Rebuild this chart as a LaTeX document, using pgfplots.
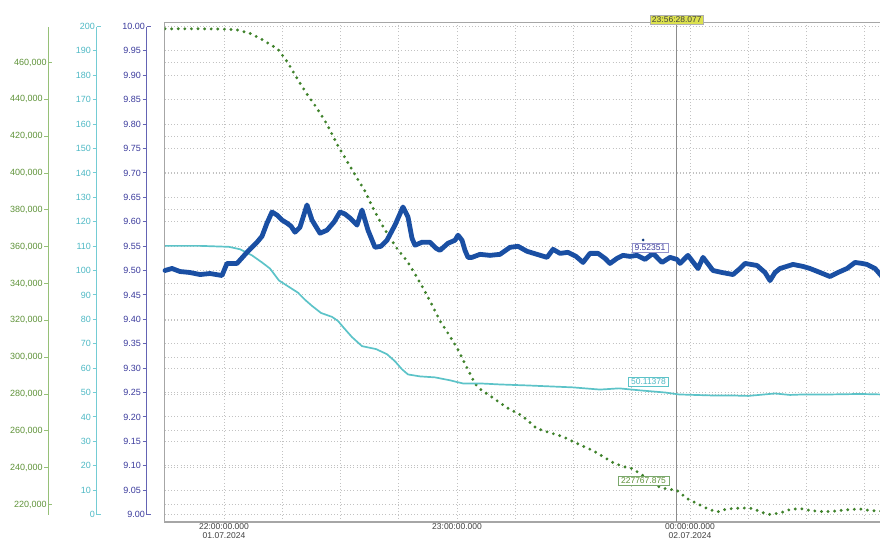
\documentclass[border=0pt]{standalone}
\usepackage{pgfplots}
\pgfplotsset{compat=1.18}
\usepackage{fontspec}
\setmainfont{Liberation Sans}
\definecolor{bser}{HTML}{1A4FA3}
\definecolor{cser}{HTML}{5CC3C8}
\definecolor{gser}{HTML}{3F822B}
\definecolor{bax}{HTML}{6464B4}
\definecolor{blab}{HTML}{3A3A9C}
\definecolor{cax}{HTML}{74CCD4}
\definecolor{clab}{HTML}{4DB8C4}
\definecolor{gax}{HTML}{96C078}
\definecolor{glab}{HTML}{5E9238}
\definecolor{gridc}{HTML}{C2C2C2}
\definecolor{framec}{HTML}{A6A6A6}
\definecolor{curc}{HTML}{8C8C8C}
\definecolor{curbg}{HTML}{DCE14E}
\pgfplotsset{/pgf/number format/assume math mode=true,
  scaleax/.style={scale only axis, width=2pt, height=488pt, anchor=south west,
    axis y line*=left, axis x line=none, xmin=0, xmax=1,
    tick align=outside, major tick length=4pt,
    yticklabel style={font=\fontsize{9}{10}\selectfont, inner sep=1.5pt},
    extra y tick style={tick align=inside}},
  plotax/.style={scale only axis, width=717.5pt, height=499.5pt, at={(164.5pt,20pt)},
    anchor=south west, xmin=-15.32, xmax=169.44},
  gridsty/.style={gridc, line width=0.8pt, dash pattern=on 1pt off 2.2pt}
}
\begin{document}
\begin{tikzpicture}
\useasboundingbox (0,0) rectangle (880pt,542pt);
% ---------- green scale ----------
\begin{axis}[scaleax, at={(48.3pt,27.5pt)}, ymin=214570, ymax=479550,
  ytick={240000,260000,280000,300000,320000,340000,360000,380000,400000,420000,440000},
  extra y ticks={220000,460000}, scaled y ticks=false,
  y axis line style={draw=gax, line width=1.4pt}, ytick style={draw=gax, line width=1pt},
  yticklabel style={text=glab},
  /pgf/number format/.cd, fixed, 1000 sep={,}]
\end{axis}
% ---------- cyan scale ----------
\begin{axis}[scaleax, at={(96.7pt,27.5pt)}, ymin=0, ymax=200,
  ytick={10,20,30,40,50,60,70,80,90,100,110,120,130,140,150,160,170,180,190},
  extra y ticks={0,200},
  y axis line style={draw=cax, line width=1.4pt}, ytick style={draw=cax, line width=1pt},
  yticklabel style={text=clab}]
\end{axis}
% ---------- blue scale ----------
\begin{axis}[scaleax, at={(146.7pt,27.5pt)}, ymin=9, ymax=10,
  ytick={9.05,9.10,9.15,9.20,9.25,9.30,9.35,9.40,9.45,9.50,9.55,9.60,9.65,9.70,9.75,9.80,9.85,9.90,9.95},
  extra y ticks={9,10},
  y axis line style={draw=bax, line width=1.4pt}, ytick style={draw=bax, line width=1pt},
  yticklabel style={text=blab},
  /pgf/number format/.cd, fixed, fixed zerofill, precision=2]
\end{axis}
% ---------- frame, grid, x labels, cursor ----------
\begin{axis}[plotax, ymin=8.9846, ymax=10.0082,
  xtick={0,60,120},
  xticklabels={{22:00:00.000\\01.07.2024},{23:00:00.000},{00:00:00.000\\02.07.2024}},
  minor xtick={15,30,45,75,90,105,135,150,165},
  ytick={9,9.05,9.10,9.15,9.20,9.25,9.30,9.35,9.40,9.45,9.50,9.55,9.60,9.65,9.70,9.75,9.80,9.85,9.90,9.95,10},
  yticklabels={},
  xmajorgrids, xminorgrids, ymajorgrids,
  major grid style={gridsty}, minor grid style={gridsty},
  major tick length=0pt, minor tick length=0pt,
  axis line style={framec, line width=1.5pt},
  xticklabel style={align=center, font=\fontsize{8.5}{9}\selectfont, text=black!75, inner sep=1.5pt}]
\addplot[curc, line width=1.2pt] coordinates {(116.6,8.9846) (116.6,10.0082)};
\end{axis}
% ---------- green series ----------
\begin{axis}[plotax, ymin=210497, ymax=481721, axis line style={draw=none},
  xtick=\empty, ytick={220000,240000,260000,280000,300000,320000,340000,360000,380000,400000,420000,440000,460000},
  yticklabels={}, major tick length=0pt, ymajorgrids, major grid style={gridsty}, scaled y ticks=false]
\addplot[gser, line width=3.2pt, line cap=round, dash pattern=on 0pt off 6.6pt] coordinates {
(-15.19,478300) (-7.98,478300) (-1.03,478200) (3.35,477721) (6.70,475824) (9.27,473114)
(11.85,469862) (13.91,467152) (16.22,460648) (18.80,451434) (21.37,442762) (23.95,435174)
(26.52,426502) (29.10,415662) (31.67,406448) (34.25,397234) (36.31,390188) (38.37,380974)
(40.43,372844) (42.75,364714) (44.81,358210) (47.13,352248) (49.18,345202) (51.24,337614)
(53.56,328400) (55.62,319728) (57.94,312140) (60.00,305094) (62.58,294254) (64.63,285582)
(66.18,282330) (67.72,280162) (70.30,276368) (72.88,272574) (76.74,268238) (80.60,261192)
(84.72,258482) (87.30,256856) (89.87,254146) (95.02,249268) (97.60,246016) (100.17,242764)
(102.75,240596) (105.07,239512) (107.13,236802) (109.70,233008) (112.28,229214) (114.34,228300)
(116.60,227768) (119.23,223252) (121.80,220542) (124.38,217832) (126.95,215935) (129.01,217290)
(131.07,217832) (134.16,218103) (136.22,217832) (138.54,215664) (140.60,214580) (143.17,215400)
(145.75,217290) (148.32,217832) (150.90,216748) (153.48,216206) (156.05,216206) (158.63,216748)
(161.20,217290) (163.78,217560) (166.35,216748) (169.44,216400)};
\end{axis}
% ---------- cyan series ----------
\begin{axis}[plotax, ymin=-3.074, ymax=201.64, hide axis]
\addplot[cser, line width=1.7pt, line join=round] coordinates {
(-15.19,110.1) (-6.18,110.1) (1.29,109.7) (4.12,108.7) (7.21,106.2) (9.79,103.3) (11.85,100.8)
(14.16,95.9) (17.00,93.0) (19.06,90.9) (20.86,88.0) (22.66,85.5) (24.98,82.6) (27.81,81.0)
(29.36,79.3) (30.90,76.4) (32.96,72.7) (35.54,69.0) (39.14,67.8) (41.97,65.7) (44.03,62.8)
(45.84,59.5) (47.38,57.4) (50.47,56.6) (54.33,56.2) (58.19,55.0) (61.54,53.7) (66.18,53.7)
(71.07,53.3) (78.03,52.9) (83.95,52.5) (89.87,52.1) (96.82,51.2) (101.72,51.7) (107.64,50.8)
(113.56,50.0) (117.17,49.2) (121.29,49.0) (125.41,48.8) (130.30,48.8) (134.94,48.6) (141.89,49.6)
(145.75,49.0) (149.10,49.2) (156.05,49.2) (163.78,49.4) (169.44,49.2)};
\end{axis}
% ---------- blue series + value labels ----------
\begin{axis}[plotax, ymin=8.9846, ymax=10.0082, hide axis, clip=false]
\addplot[bser, line width=4.8pt, line join=round, line cap=round] coordinates {
(-15.19,9.5000) (-13.39,9.5041) (-11.33,9.4979) (-8.76,9.4959) (-6.18,9.4917) (-3.61,9.4938)
(-0.52,9.4897) (0.77,9.5145) (3.35,9.5145) (5.92,9.5372) (8.50,9.5579) (9.79,9.5702)
(11.07,9.5971) (12.36,9.6198) (13.65,9.6136) (14.94,9.6033) (16.22,9.5971) (17.25,9.5909)
(18.28,9.5785) (19.57,9.5888) (21.37,9.6343) (22.66,9.6033) (24.72,9.5764) (26.52,9.5826)
(28.33,9.5992) (29.87,9.6198) (31.16,9.6157) (32.45,9.6074) (34.25,9.5930) (35.54,9.6240)
(37.08,9.5826) (38.88,9.5475) (40.43,9.5496) (41.97,9.5620) (44.03,9.5930) (46.09,9.6302)
(47.38,9.6095) (48.41,9.5661) (49.18,9.5517) (50.99,9.5579) (53.05,9.5579) (54.59,9.5455)
(55.62,9.5413) (57.68,9.5558) (59.49,9.5620) (60.26,9.5723) (61.29,9.5620) (62.06,9.5413)
(62.83,9.5269) (63.86,9.5269) (65.92,9.5331) (68.50,9.5310) (71.07,9.5331) (73.65,9.5475)
(75.71,9.5496) (78.03,9.5393) (80.60,9.5331) (83.18,9.5269) (84.72,9.5434) (86.53,9.5351)
(88.58,9.5372) (90.64,9.5289) (92.45,9.5165) (94.25,9.5351) (96.31,9.5351) (98.11,9.5248)
(99.40,9.5145) (101.20,9.5248) (102.75,9.5310) (104.55,9.5289) (106.35,9.5310) (108.41,9.5227)
(110.47,9.5351) (112.79,9.5165) (114.85,9.5269) (116.65,9.5227) (117.42,9.5145) (119.48,9.5310)
(122.06,9.5041) (123.35,9.5269) (125.92,9.5000) (128.24,9.4959) (131.07,9.4917) (132.88,9.5041)
(134.16,9.5145) (137.25,9.5103) (139.31,9.4959) (140.60,9.4793) (141.89,9.4959) (143.17,9.5041)
(146.52,9.5124) (149.10,9.5083) (150.90,9.5041) (153.48,9.4959) (156.05,9.4876) (158.11,9.4959)
(160.43,9.5041) (162.49,9.5165) (164.29,9.5145) (165.58,9.5124) (167.64,9.5041) (169.44,9.4876)};
\fill[bser!80!black] (axis cs:107.9,9.5625) circle (1.5pt);
\node[draw=curc!70, fill=curbg, text=black!75, font=\fontsize{8.5}{9}\selectfont,
  inner xsep=2pt, inner ysep=1.5pt] at (axis cs:116.6,10.0143) {23:56:28.077};
\node[draw=bax!70, fill=white, text=blab, font=\fontsize{8.5}{9}\selectfont,
  inner xsep=2.5pt, inner ysep=1.5pt] at (axis cs:109.70,9.5461) {9.52351};
\node[draw=cser, fill=white, text=clab, font=\fontsize{8.5}{9}\selectfont,
  inner xsep=2.5pt, inner ysep=1.5pt] at (axis cs:109.31,9.2715) {50.11378};
\node[draw=gser!70, fill=white, text=glab, font=\fontsize{8.5}{9}\selectfont,
  inner xsep=3pt, inner ysep=1.5pt] at (axis cs:108.03,9.0686) {227767.875};
\end{axis}
\end{tikzpicture}
\end{document}
